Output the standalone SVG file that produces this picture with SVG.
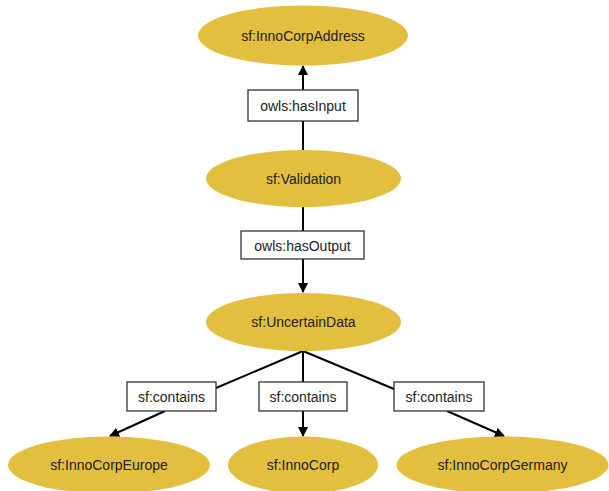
<svg xmlns="http://www.w3.org/2000/svg" width="609" height="491" viewBox="0 0 609 491">
<style>
.node ellipse{fill:#E2BF3E;stroke:none}
.node text,.lbl text{font-family:"Liberation Sans",Arial,sans-serif;font-size:14px;fill:#222;text-anchor:middle;dominant-baseline:central}
.lbl rect{fill:#fff;stroke:#333;stroke-width:1.3}
.edge{stroke:#000;stroke-width:2;fill:none}
</style>
<defs>
<marker id="arr" viewBox="0 0 10 10" refX="9" refY="5" markerWidth="5" markerHeight="5" orient="auto" markerUnits="strokeWidth">
<path d="M0,0 L10,5 L0,10 z" fill="#000"/>
</marker>
</defs>
<rect width="609" height="491" fill="#fff"/>
<g id="connectors">
<line class="edge" x1="303" y1="150" x2="303" y2="66" marker-end="url(#arr)"/>
<line class="edge" x1="303" y1="207" x2="303" y2="292" marker-end="url(#arr)"/>
<line class="edge" x1="303" y1="351" x2="216" y2="388"/>
<line class="edge" x1="165" y1="411" x2="110" y2="436" marker-end="url(#arr)"/>
<line class="edge" x1="303" y1="351" x2="303" y2="436" marker-end="url(#arr)"/>
<line class="edge" x1="303" y1="351" x2="394" y2="389"/>
<line class="edge" x1="447" y1="411" x2="504" y2="436" marker-end="url(#arr)"/>
</g>
<g id="lbl-hasInput" class="lbl"><rect x="248" y="90" width="110" height="31"/><text x="303" y="106">owls:hasInput</text></g>
<g id="lbl-hasOutput" class="lbl"><rect x="241" y="231" width="123" height="28"/><text x="302.5" y="245.5">owls:hasOutput</text></g>
<g id="lbl-contains1" class="lbl"><rect x="127" y="382" width="89" height="29"/><text x="171.5" y="397">sf:contains</text></g>
<g id="lbl-contains2" class="lbl"><rect x="259" y="382" width="88" height="29"/><text x="303" y="397">sf:contains</text></g>
<g id="lbl-contains3" class="lbl"><rect x="394" y="382" width="90" height="29"/><text x="439" y="397">sf:contains</text></g>
<g id="n-address" class="node"><ellipse cx="303" cy="35.5" rx="105" ry="30"/><text x="303" y="36">sf:InnoCorpAddress</text></g>
<g id="n-validation" class="node"><ellipse cx="303.5" cy="178.5" rx="97.5" ry="28.5"/><text x="303.5" y="179">sf:Validation</text></g>
<g id="n-uncertain" class="node"><ellipse cx="303.5" cy="322" rx="97.5" ry="29"/><text x="303.5" y="322">sf:UncertainData</text></g>
<g id="n-europe" class="node"><ellipse cx="109" cy="465" rx="101" ry="28.5"/><text x="109" y="465">sf:InnoCorpEurope</text></g>
<g id="n-innocorp" class="node"><ellipse cx="303" cy="465" rx="75" ry="28.5"/><text x="303" y="465">sf:InnoCorp</text></g>
<g id="n-germany" class="node"><ellipse cx="502.5" cy="465" rx="106" ry="28.5"/><text x="502.5" y="465">sf:InnoCorpGermany</text></g>
</svg>
